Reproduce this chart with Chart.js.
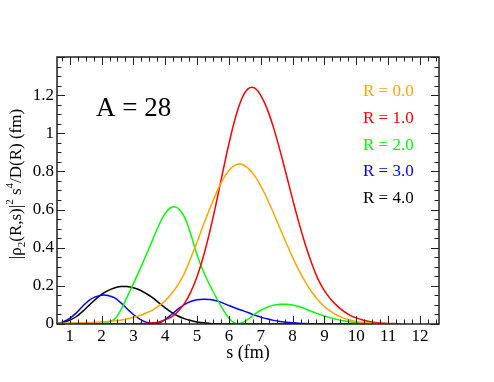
<!DOCTYPE html>
<html>
<head>
<meta charset="utf-8">
<script src="https://cdn.jsdelivr.net/npm/chart.js@4.4.1/dist/chart.umd.min.js"></script>
<style>
html,body{margin:0;padding:0;background:#fff;}
canvas{display:block;}
</style>
</head>
<body>
<canvas id="c" width="494" height="382"></canvas>
<script>
// ---- data ----
const sValues = [0.6,0.8,1.0,1.2,1.4,1.6,1.8,2.0,2.2,2.4,2.6,2.8,3.0,3.2,3.4,3.6,3.8,4.0,4.2,4.4,4.6,4.8,5.0,5.2,5.4,5.6,5.8,6.0,6.2,6.4,6.6,6.8,7.0,7.2,7.4,7.6,7.8,8.0,8.2,8.4,8.6,8.8,9.0,9.2,9.4,9.6,9.8,10.0,10.2,10.4,10.6,10.8,11.0,11.2,11.4];

const rho_R0 = [0.003,0.004,0.005,0.006,0.007,0.008,0.009,0.011,0.013,0.016,0.020,0.027,0.035,0.045,0.058,0.073,0.095,0.122,0.160,0.205,0.265,0.345,0.430,0.520,0.605,0.685,0.755,0.805,0.833,0.838,0.817,0.779,0.724,0.657,0.582,0.503,0.425,0.350,0.281,0.221,0.169,0.126,0.092,0.066,0.046,0.031,0.021,0.013,0.008,0.005,0.003,0.002,0.001,0.001,0.000];

const rho_R1 = [0.001,0.001,0.001,0.001,0.001,0.001,0.001,0.001,0.001,0.001,0.001,0.001,0.001,0.002,0.003,0.006,0.011,0.022,0.038,0.066,0.107,0.167,0.249,0.355,0.485,0.633,0.791,0.945,1.079,1.180,1.233,1.238,1.199,1.128,1.031,0.913,0.785,0.655,0.530,0.417,0.318,0.235,0.175,0.130,0.095,0.068,0.047,0.032,0.021,0.013,0.008,0.005,0.003,0.002,0.001];

const rho_R2 = [0.003,0.003,0.003,0.003,0.003,0.003,0.003,0.004,0.008,0.025,0.072,0.140,0.212,0.285,0.362,0.440,0.518,0.580,0.612,0.607,0.562,0.472,0.362,0.275,0.203,0.140,0.080,0.030,0.004,0.006,0.025,0.050,0.072,0.088,0.098,0.103,0.104,0.100,0.092,0.080,0.066,0.053,0.042,0.032,0.024,0.017,0.012,0.008,0.005,0.003,0.002,0.001,0.000,0.000,0.000];

const rho_R3 = [0.002,0.012,0.030,0.057,0.092,0.123,0.142,0.151,0.150,0.138,0.112,0.080,0.050,0.026,0.010,0.002,0.005,0.024,0.050,0.078,0.102,0.118,0.127,0.130,0.128,0.122,0.111,0.097,0.084,0.072,0.060,0.047,0.036,0.027,0.019,0.013,0.009,0.006,0.004,0.002,0.001,0.000,0.000,0.000,0.000,0.000,0.000,0.000,0.000,0.000,0.000,0.000,0.000,0.000,0.000];

const rho_R4 = [0.001,0.008,0.020,0.038,0.065,0.097,0.128,0.155,0.175,0.189,0.196,0.196,0.190,0.178,0.160,0.138,0.111,0.085,0.061,0.042,0.028,0.018,0.011,0.006,0.003,0.001,0.000,0.000,0.000,0.000,0.000,0.000,0.000,0.000,0.000,0.000,0.000,0.000,0.000,0.000,0.000,0.000,0.000,0.000,0.000,0.000,0.000,0.000,0.000,0.000,0.000,0.000,0.000,0.000,0.000];

const seriesLabels = ['R = 0.0','R = 1.0','R = 2.0','R = 3.0','R = 4.0'];
const seriesColors = ['#FFA500','#FF0000','#00FF00','#0000FF','#000000'];
const seriesValues = [rho_R0, rho_R1, rho_R2, rho_R3, rho_R4];

const xTickValues = [1,2,3,4,5,6,7,8,9,10,11,12];
const yTickValues = [0,0.2,0.4,0.6,0.8,1,1.2];
const xRange = [0.6, 12.6];
const yRange = [0, 1.4];
const panelLabel = 'A = 28';
const xTitle = 's (fm)';

const SERIF = '"Liberation Serif", "Times New Roman", serif';

const datasets = seriesValues.map((vals, k) => ({
  label: seriesLabels[k],
  data: sValues.map((s, i) => ({x: s, y: vals[i]})),
  borderColor: seriesColors[k],
  borderWidth: 1.5,
  pointRadius: 0,
  fill: false,
  tension: 0.4
}));

function minorList(lo, hi, step) {
  const out = [];
  const n0 = Math.ceil(lo / step - 1e-9), n1 = Math.floor(hi / step + 1e-9);
  for (let n = n0; n <= n1; n++) out.push(n * step);
  return out;
}

const framePlugin = {
  id: 'frame',
  afterDatasetsDraw(chart) {
    const {ctx, chartArea: a, scales: {x, y}} = chart;
    ctx.save();
    ctx.strokeStyle = '#222';
    ctx.lineWidth = 1;
    ctx.beginPath();
    minorList(xRange[0], xRange[1], 0.25).forEach(v => {
      const major = Math.abs(v - Math.round(v)) < 1e-6;
      const len = major ? 8 : 4.5;
      const px = Math.round(x.getPixelForValue(v)) + 0.5;
      ctx.moveTo(px, a.bottom); ctx.lineTo(px, a.bottom - len);
      ctx.moveTo(px, a.top); ctx.lineTo(px, a.top + len);
    });
    minorList(yRange[0], yRange[1], 0.05).forEach(v => {
      const r = v / 0.2;
      const major = Math.abs(r - Math.round(r)) < 1e-6;
      const len = major ? 8 : 4.5;
      const py = Math.round(y.getPixelForValue(v)) + 0.5;
      ctx.moveTo(a.left, py); ctx.lineTo(a.left + len, py);
      ctx.moveTo(a.right, py); ctx.lineTo(a.right - len, py);
    });
    ctx.stroke();
    ctx.lineWidth = 1.5;
    ctx.strokeRect(a.left, a.top, a.right - a.left, a.bottom - a.top);

    ctx.fillStyle = '#000';
    ctx.textBaseline = 'alphabetic';
    // x axis title
    ctx.font = '18px ' + SERIF;
    ctx.textAlign = 'center';
    ctx.fillText(xTitle, (a.left + a.right) / 2, 358);

    // panel label
    ctx.textAlign = 'left';
    ctx.font = '27px ' + SERIF;
    ctx.fillText(panelLabel, 96, 116);

    // series labels
    ctx.font = '17px ' + SERIF;
    seriesLabels.forEach((t, k) => {
      ctx.fillStyle = seriesColors[k];
      ctx.fillText(t, 363, 96 + k * 26.8);
    });

    // y axis title with sub/superscripts
    const parts = [
      {t: '|\u03C1', f: 17, dy: 0},
      {t: '2', f: 11, dy: 4},
      {t: '(R,s)|', f: 17, dy: 0},
      {t: '2', f: 11, dy: -8},
      {t: ' s', f: 17, dy: 0},
      {t: '4', f: 11, dy: -8},
      {t: '/D(R) (fm)', f: 17, dy: 0}
    ];
    let total = 0;
    parts.forEach(p => { ctx.font = p.f + 'px ' + SERIF; p.w = ctx.measureText(p.t).width; total += p.w; });
    ctx.translate(21, 184);
    ctx.rotate(-Math.PI / 2);
    ctx.fillStyle = '#000';
    let cx = -total / 2;
    parts.forEach(p => {
      ctx.font = p.f + 'px ' + SERIF;
      ctx.fillText(p.t, cx, p.dy);
      cx += p.w;
    });
    ctx.restore();
  }
};

new Chart(document.getElementById('c'), {
  type: 'line',
  data: {datasets},
  options: {
    responsive: false,
    devicePixelRatio: 1,
    animation: false,
    layout: {padding: {top: 57, right: 55, left: 0, bottom: 0}},
    plugins: {legend: {display: false}, tooltip: {enabled: false}},
    scales: {
      x: {
        type: 'linear', min: xRange[0], max: xRange[1],
        afterBuildTicks: s => { s.ticks = xTickValues.map(v => ({value: v})); },
        afterFit: s => { s.height = 58; },
        grid: {drawOnChartArea: false, drawTicks: false},
        border: {display: false},
        ticks: {color: '#000', font: {family: SERIF, size: 17}, padding: 2, maxRotation: 0, autoSkip: false,
                callback: v => String(v)}
      },
      y: {
        type: 'linear', min: yRange[0], max: yRange[1],
        afterBuildTicks: s => { s.ticks = yTickValues.map(v => ({value: v})); },
        afterFit: s => { s.width = 57; },
        grid: {drawOnChartArea: false, drawTicks: false},
        border: {display: false},
        ticks: {color: '#000', font: {family: SERIF, size: 17}, padding: 3, callback: v => String(v)}
      }
    }
  },
  plugins: [framePlugin]
});
</script>
</body>
</html>
